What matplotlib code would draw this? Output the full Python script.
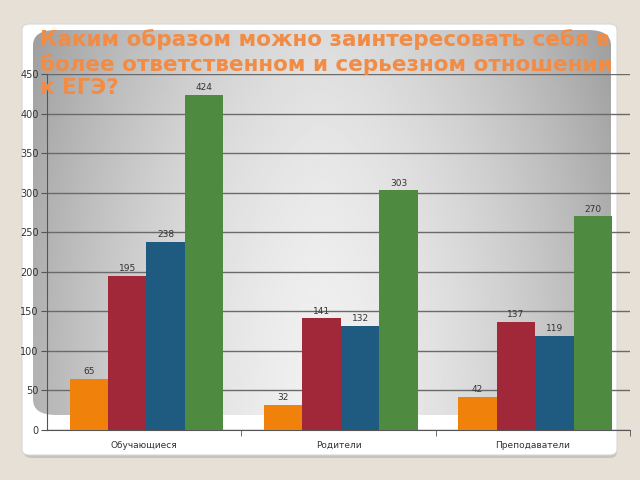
import numpy as np
from matplotlib import pyplot as plt
from matplotlib.patches import FancyBboxPatch

categories = ['Обучающиеся', 'Родители', 'Преподаватели']
series_1 = [65, 32, 42]
series_2 = [195, 141, 137]
series_3 = [238, 132, 119]
series_4 = [424, 303, 270]
colors = ['#f0820c', '#a02838', '#1f5a80', '#4f8a41']
title = 'Каким образом можно заинтересовать себя в\nболее ответственном и серьезном отношении\nк ЕГЭ?'

W, H = 640, 480


def fig_rect(x0, y0, x1, y1):
	# pixel box (top-left origin) -> figure fraction [l, b, w, h]
	return [x0 / W, 1 - y1 / H, (x1 - x0) / W, (y1 - y0) / H]


fig = plt.figure(figsize=(6.4, 4.8), dpi=100, facecolor='#e6e0d6')

# white slide card with soft shadow (kept below the axes)
shadow = FancyBboxPatch((24 / W, 1 - 458 / H), (617 - 24) / W, (458 - 26) / H,
	boxstyle='round,pad=0,rounding_size=0.012', transform=fig.transFigure,
	facecolor='#b5b0a8', edgecolor='none', alpha=0.6, zorder=-3)
card = FancyBboxPatch((22 / W, 1 - 455 / H), (617 - 22) / W, (455 - 24) / H,
	boxstyle='round,pad=0,rounding_size=0.012', transform=fig.transFigure,
	facecolor='white', edgecolor='#d8d8d8', lw=0.8, zorder=-2)
fig.patches.extend([shadow, card])

# gray gradient panel behind the chart
bg = fig.add_axes(fig_rect(33, 30, 611, 415), zorder=-1)
bg.axis('off')
xx, yy = np.meshgrid(np.linspace(-1, 1, 300), np.linspace(0, 1, 200))
shade = 0.94 - 0.24 * np.abs(xx) ** 1.6 - 0.08 * yy ** 2
bg.imshow(shade, cmap='gray', vmin=0, vmax=1, aspect='auto',
	extent=[0, 1, 0, 1], origin='lower')
clip = FancyBboxPatch((0, 0), 1, 1, boxstyle='round,pad=0,rounding_size=0.04',
	transform=bg.transAxes, facecolor='none', edgecolor='none')
bg.add_patch(clip)
bg.images[0].set_clip_path(clip)
bg.set_xlim(0, 1)
bg.set_ylim(0, 1)

ax = fig.add_axes(fig_rect(47, 74, 630, 430))
ax.patch.set_alpha(0)

x = np.arange(len(categories))
w = 0.198
for i, vals in enumerate([series_1, series_2, series_3, series_4]):
	pos = x + (i - 1.5) * w + 0.012
	ax.bar(pos, vals, width=w, color=colors[i], zorder=3)
	for p, v in zip(pos, vals):
		ax.text(p, v + 3, str(v), ha='center', va='bottom', fontsize=6.5,
			color='#333333', zorder=4)

ax.set_xlim(-0.5, 2.5)
ax.set_ylim(0, 450)
ax.set_yticks(range(0, 451, 50))
ax.grid(axis='y', color='#6a6a6a', lw=1.0, zorder=1)
ax.set_xticks(x)
ax.set_xticklabels(categories, fontsize=6.5, color='#333333')
ax.set_xticks([0.5, 1.5, 2.5], minor=True)
ax.tick_params(axis='x', which='major', length=0, pad=8)
ax.tick_params(axis='x', which='minor', length=4, color='#555555', direction='out')
ax.tick_params(axis='y', labelsize=7, labelcolor='#333333', length=4,
	color='#555555', pad=2)
for s in ['top', 'right']:
	ax.spines[s].set_visible(False)
ax.spines['left'].set_color('#555555')
ax.spines['bottom'].set_color('#555555')

fig.text(40 / W, 1 - 29 / H, title, ha='left', va='top', fontsize=15.5,
	fontweight='bold', color='#f28c45', linespacing=1.22, zorder=10)

fig.savefig('out.png', dpi=100, facecolor=fig.get_facecolor())
